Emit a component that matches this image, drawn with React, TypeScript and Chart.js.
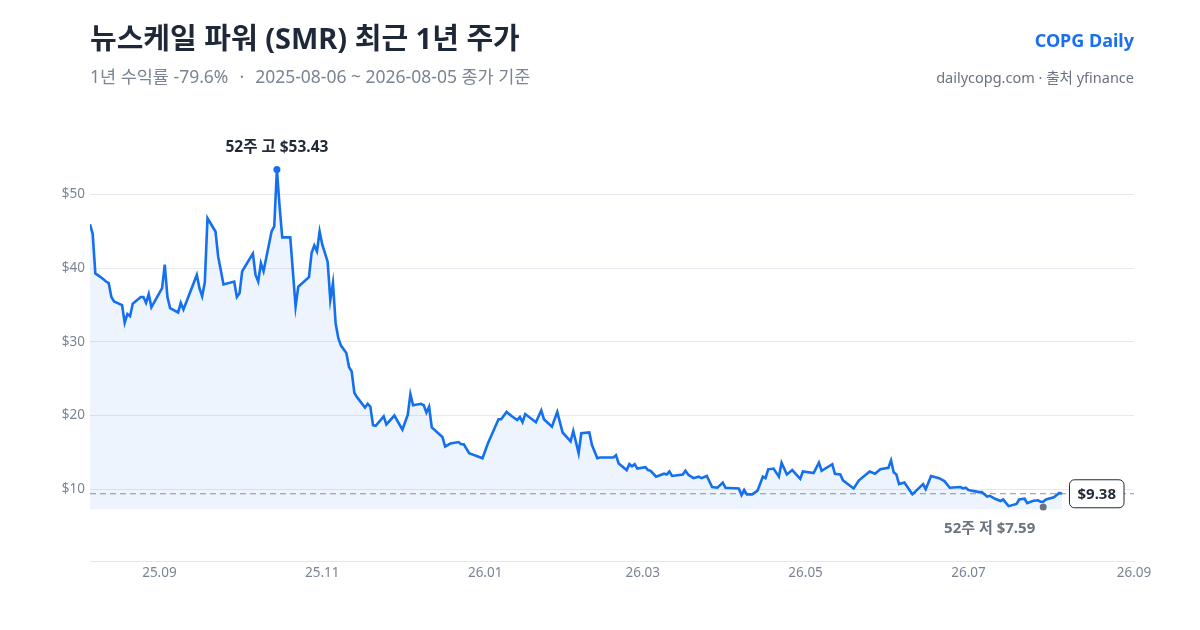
import React, { useEffect, useRef } from 'react';
import { Chart, registerables } from 'chart.js';

Chart.register(...registerables);

const FONT = "'Noto Sans', 'Noto Sans CJK KR', sans-serif";

// x = days since 2025-08-06, one entry per plotted close
const tradingDays = [
	0, 1, 2, 4, 6, 7, 8, 9, 12, 13,
	14, 15, 16, 19, 20, 21, 22, 23, 27, 28,
	29, 30, 33, 34, 35, 40, 41, 42, 43, 44,
	47, 48, 50, 54, 55, 56, 57, 61, 62, 63,
	64, 65, 67, 68, 69, 70, 71, 72, 75, 77,
	78, 82, 83, 84, 85, 86, 87, 89, 90, 91,
	92, 93, 94, 96, 97, 98, 99, 100, 103, 104,
	105, 106, 107, 110, 111, 114, 117, 119, 120, 121,
	124, 125, 126, 127, 128, 132, 133, 135, 138, 139,
	140, 142, 147, 149, 153, 154, 156, 158, 160, 161,
	162, 163, 167, 169, 170, 173, 175, 177, 180, 181,
	183, 184, 187, 188, 190, 191, 196, 197, 198, 201,
	202, 203, 204, 205, 208, 209, 210, 212, 215, 216,
	217, 218, 222, 223, 224, 226, 228, 229, 231, 233,
	235, 237, 238, 243, 244, 245, 246, 248, 250, 252,
	253, 254, 256, 258, 259, 261, 263, 266, 267, 271,
	273, 274, 278, 279, 281, 282, 286, 288, 292, 294,
	296, 299, 300, 301, 302, 303, 305, 308, 312, 313,
	315, 318, 320, 322, 326, 327, 328, 329, 333, 334,
	336, 337, 339, 341, 342, 344, 347, 348, 350, 351,
	353, 355, 356, 357, 358, 361, 363, 364,
];

const closes = [
	45.98, 44.7, 39.3, 38.8, 38.2, 38.0, 36.1, 35.5, 35.0, 32.6,
	33.8, 33.5, 35.2, 36.1, 36.1, 35.3, 36.5, 34.7, 37.3, 40.5,
	36.1, 34.6, 34.0, 35.3, 34.4, 39.1, 37.3, 36.2, 38.1, 46.8,
	45.0, 41.6, 37.8, 38.2, 36.1, 36.6, 39.6, 42.0, 39.1, 38.2,
	40.7, 39.6, 43.2, 45.0, 45.7, 53.43, 48.4, 44.2, 44.2, 34.8,
	37.5, 38.8, 42.1, 43.1, 42.3, 45.0, 43.2, 40.9, 35.7, 38.0,
	32.5, 30.5, 29.5, 28.5, 26.6, 26.0, 23.1, 22.5, 21.1, 21.6,
	21.2, 18.7, 18.6, 19.9, 18.8, 20.0, 18.1, 20.1, 22.9, 21.4,
	21.6, 21.4, 20.4, 21.2, 18.4, 17.1, 15.8, 16.2, 16.4, 16.1,
	16.1, 14.9, 14.2, 16.2, 19.5, 19.5, 20.5, 19.9, 19.4, 19.8,
	19.1, 20.2, 19.1, 20.7, 19.5, 18.5, 20.5, 17.7, 16.5, 17.9,
	14.9, 17.6, 17.7, 16.0, 14.2, 14.3, 14.3, 14.6, 13.5, 12.6,
	13.4, 13.1, 13.4, 12.8, 13.0, 12.6, 12.5, 11.7, 12.1, 12.0,
	12.4, 11.8, 12.0, 12.5, 12.0, 11.5, 11.7, 11.5, 11.8, 10.3,
	10.2, 10.9, 10.2, 10.1, 9.2, 9.9, 9.3, 9.3, 9.8, 11.7,
	11.5, 12.7, 12.8, 11.7, 13.6, 12.0, 12.6, 11.4, 12.4, 12.2,
	13.6, 12.5, 13.4, 12.1, 12.0, 11.2, 10.1, 11.2, 12.4, 12.1,
	12.7, 12.9, 13.9, 12.3, 12.0, 10.7, 10.9, 9.3, 10.7, 10.0,
	11.8, 11.5, 11.1, 10.2, 10.3, 10.1, 10.2, 9.9, 9.6, 9.6,
	9.0, 9.1, 8.7, 8.4, 8.6, 7.7, 8.0, 8.6, 8.7, 8.1,
	8.4, 8.5, 8.3, 8.3, 8.6, 8.9, 9.5, 9.38,
];

const yTicks = [10, 20, 30, 40, 50];
const xTickDays = [26, 87, 148, 207, 268, 329, 391];
const xTickLabels = ['25.09', '25.11', '26.01', '26.03', '26.05', '26.07', '26.09'];

const high = { day: 70, price: 53.43 };
const low = { day: 357, price: 7.59 };
const lastPrice = 9.38;
const fillFloor = 7.29;

const BLUE = '#1570ef';

const dot = (ctx: CanvasRenderingContext2D, x: number, y: number, color: string) => {
	ctx.beginPath();
	ctx.arc(x, y, 3.5, 0, Math.PI * 2);
	ctx.fillStyle = color;
	ctx.fill();
};

const markers = {
	id: 'markers',
	beforeDatasetsDraw(chart: any) {
		const { ctx, chartArea, scales: { y } } = chart;
		const py = y.getPixelForValue(lastPrice);
		ctx.save();
		ctx.setLineDash([6, 4]);
		ctx.strokeStyle = '#8b93a1';
		ctx.lineWidth = 1.2;
		ctx.beginPath();
		ctx.moveTo(chartArea.left, py);
		ctx.lineTo(chartArea.right, py);
		ctx.stroke();
		ctx.restore();
	},
	afterDatasetsDraw(chart: any) {
		const { ctx, chartArea, scales: { x, y } } = chart;
		ctx.save();
		ctx.textBaseline = 'middle';

		// 52-week high
		const hx = x.getPixelForValue(high.day);
		const hy = y.getPixelForValue(high.price);
		dot(ctx, hx, hy, BLUE);
		ctx.font = `bold 15.5px ${FONT}`;
		ctx.fillStyle = '#1f2937';
		ctx.textAlign = 'center';
		ctx.fillText(`52주 고 $${high.price.toFixed(2)}`, hx, hy - 22);

		// 52-week low
		const lx = x.getPixelForValue(low.day);
		const ly = y.getPixelForValue(low.price);
		dot(ctx, lx, ly, '#6b7280');
		ctx.font = `bold 15px ${FONT}`;
		ctx.fillStyle = '#6b7280';
		ctx.textAlign = 'right';
		ctx.fillText(`52주 저 $${low.price.toFixed(2)}`, lx - 8, ly + 22);

		// last price tag
		const py = y.getPixelForValue(lastPrice);
		const text = `$${lastPrice.toFixed(2)}`;
		ctx.font = `bold 15px ${FONT}`;
		const w = ctx.measureText(text).width + 16;
		const h = 28;
		const bx = chartArea.right - 10 - w;
		ctx.beginPath();
		ctx.roundRect(bx, py - h / 2, w, h, 5);
		ctx.fillStyle = '#ffffff';
		ctx.fill();
		ctx.lineWidth = 1;
		ctx.strokeStyle = '#1f2937';
		ctx.stroke();
		ctx.fillStyle = '#1f2937';
		ctx.textAlign = 'center';
		ctx.fillText(text, bx + w / 2, py + 1);
		ctx.restore();
	},
};

const PriceChart: React.FC = () => {
	const chartRef = useRef<HTMLCanvasElement>(null);
	const chartInstance = useRef<Chart | null>(null);

	useEffect(() => {
		const ctx = chartRef.current?.getContext('2d');
		if (!ctx) return;

		chartInstance.current = new Chart(ctx, {
			type: 'line',
			data: {
				datasets: [{
					data: tradingDays.map((d, i) => ({ x: d, y: closes[i] })),
					borderColor: BLUE,
					borderWidth: 2.6,
					backgroundColor: 'rgba(21, 112, 239, 0.08)',
					fill: { value: fillFloor },
					pointRadius: 0,
					tension: 0,
				}],
			},
			options: {
				animation: false,
				responsive: false,
				layout: { padding: { top: 121, right: 66, bottom: 0, left: 0 } },
				plugins: { legend: { display: false }, tooltip: { enabled: false } },
				scales: {
					x: {
						type: 'linear',
						min: 0,
						max: 391,
						afterBuildTicks: (axis: any) => { axis.ticks = xTickDays.map(v => ({ value: v })); },
						afterFit: (axis: any) => { axis.height = 69; },
						grid: { display: false, drawTicks: false },
						border: { display: true, color: '#e3e7ee' },
						ticks: {
							autoSkip: false,
							maxRotation: 0,
							padding: 4,
							color: '#7b8494',
							font: { family: FONT, size: 13.5 },
							callback: (v: any) => xTickLabels[xTickDays.indexOf(Number(v))] ?? '',
						},
					},
					y: {
						min: 0.25,
						max: 60,
						afterBuildTicks: (axis: any) => { axis.ticks = yTicks.map(v => ({ value: v })); },
						afterFit: (axis: any) => { axis.width = 90; },
						grid: { color: '#e6eaf0', drawTicks: false },
						border: { display: false },
						ticks: {
							padding: 5,
							color: '#7b8494',
							font: { family: FONT, size: 13.5 },
							callback: (v: any) => `$${v}`,
						},
					},
				},
			},
			plugins: [markers],
		});

		return () => {
			chartInstance.current?.destroy();
		};
	}, []);

	return <canvas ref={chartRef} width={1200} height={630} style={{ position: 'absolute', left: 0, top: 0 }} />;
};

const App: React.FC = () => (
	<div style={{ position: 'fixed', left: 0, top: 0, width: 1200, height: 630, background: '#fff', fontFamily: FONT, overflow: 'hidden' }}>
		<PriceChart />
		<div style={{ position: 'absolute', left: 90, top: 18, fontSize: 29, lineHeight: '40px', fontWeight: 700, color: '#1e2838' }}>
			뉴스케일 파워 (SMR) 최근 1년 주가
		</div>
		<div style={{ position: 'absolute', left: 90, top: 63, fontSize: 17.5, lineHeight: '26px', color: '#7a8494', whiteSpace: 'pre' }}>
			1년 수익률 -79.6%<span style={{ margin: '0 11px' }}>·</span>2025-08-06 ~ 2026-08-05 종가 기준
		</div>
		<div style={{ position: 'absolute', right: 66, top: 27, fontSize: 18, lineHeight: '26px', fontWeight: 700, color: '#1a6ff0' }}>
			COPG Daily
		</div>
		<div style={{ position: 'absolute', right: 66, top: 66, fontSize: 14.5, lineHeight: '22px', color: '#6b7280' }}>
			dailycopg.com · 출처 yfinance
		</div>
	</div>
);

export default App;
